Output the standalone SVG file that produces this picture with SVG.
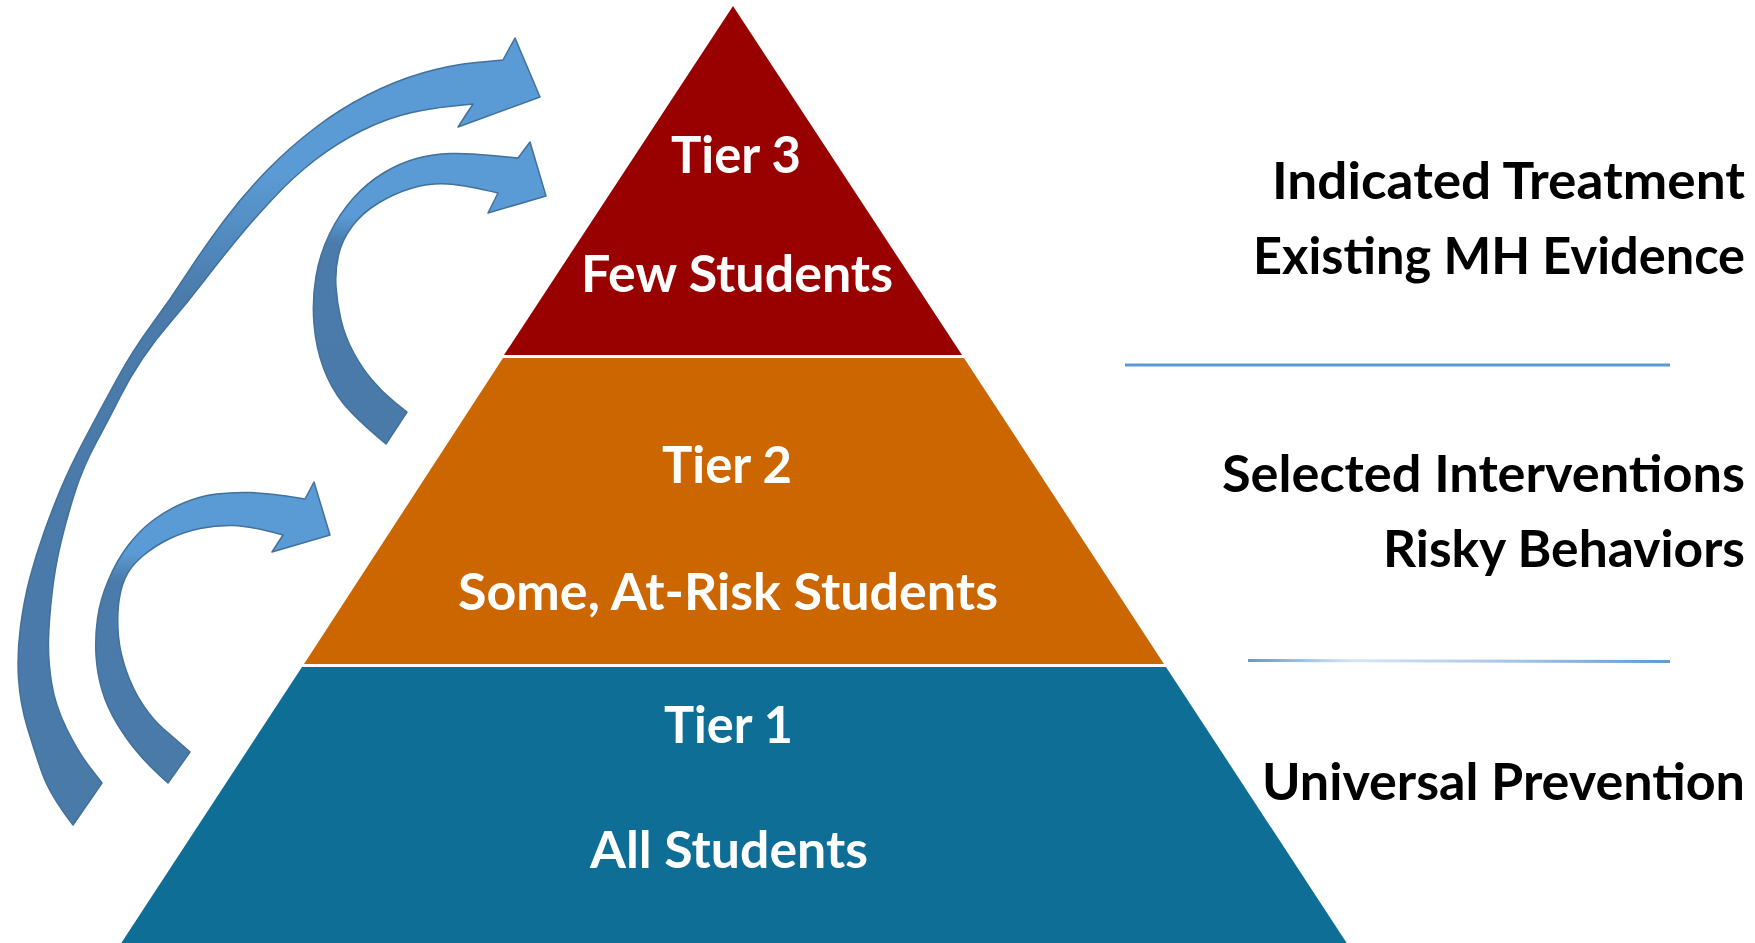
<svg xmlns="http://www.w3.org/2000/svg" width="1755" height="943" viewBox="0 0 1755 943">
<style>
.tier{font-family:Lato,"Open Sans","Liberation Sans",sans-serif;font-weight:bold;font-size:51px;fill:#ffffff}
.side{font-family:Lato,"Open Sans","Liberation Sans",sans-serif;font-weight:bold;font-size:51px;fill:#000000}
.arrow{stroke:#41719c;stroke-width:1.5;stroke-linejoin:round}
</style>
<defs>
<linearGradient id="gOuter" gradientUnits="userSpaceOnUse" x1="0" y1="38" x2="0" y2="825">
<stop offset="0" stop-color="#5b9bd5"/><stop offset="0.17" stop-color="#5b9bd5"/><stop offset="0.33" stop-color="#4a7bab"/><stop offset="1" stop-color="#4a7aa8"/>
</linearGradient>
<linearGradient id="gMid" gradientUnits="userSpaceOnUse" x1="0" y1="140" x2="0" y2="445">
<stop offset="0" stop-color="#5b9bd5"/><stop offset="0.25" stop-color="#5b9bd5"/><stop offset="0.34" stop-color="#4a7bab"/><stop offset="1" stop-color="#4a7aa8"/>
</linearGradient>
<linearGradient id="gLow" gradientUnits="userSpaceOnUse" x1="0" y1="480" x2="0" y2="785">
<stop offset="0" stop-color="#5b9bd5"/><stop offset="0.24" stop-color="#5b9bd5"/><stop offset="0.33" stop-color="#4a7bab"/><stop offset="1" stop-color="#4a7aa8"/>
</linearGradient>
<linearGradient id="gLine" x1="0" y1="0" x2="1" y2="0">
<stop offset="0" stop-color="#5b9bd5"/><stop offset="0.25" stop-color="#d6e6f5"/><stop offset="0.6" stop-color="#a9c8e8"/><stop offset="1" stop-color="#5b9bd5"/>
</linearGradient>
</defs>
<rect width="1755" height="943" fill="#ffffff"/>
<g id="tier3">
<polygon points="733,6 962,355 504,355" fill="#990000"/>
<text class="tier" x="671" y="173" textLength="130" lengthAdjust="spacingAndGlyphs">Tier 3</text>
<text class="tier" x="581" y="292" textLength="312" lengthAdjust="spacingAndGlyphs">Few Students</text>
</g>
<g id="tier2">
<polygon points="503,358 964,358 1164,664 304,664" fill="#cc6600"/>
<text class="tier" x="662" y="483" textLength="130" lengthAdjust="spacingAndGlyphs">Tier 2</text>
<text class="tier" x="458" y="610" textLength="540" lengthAdjust="spacingAndGlyphs">Some, At-Risk Students</text>
</g>
<g id="tier1">
<polygon points="302,667 1166,667 1350,948 118,948" fill="#0f6e96"/>
<text class="tier" x="664" y="743" textLength="129" lengthAdjust="spacingAndGlyphs">Tier 1</text>
<text class="tier" x="590" y="868" textLength="278" lengthAdjust="spacingAndGlyphs">All Students</text>
</g>
<g id="labels">
<text class="side" x="1272" y="199" textLength="473" lengthAdjust="spacingAndGlyphs">Indicated Treatment</text>
<text class="side" x="1253" y="274" textLength="492" lengthAdjust="spacingAndGlyphs">Existing MH Evidence</text>
<text class="side" x="1222" y="492" textLength="523" lengthAdjust="spacingAndGlyphs">Selected Interventions</text>
<text class="side" x="1383" y="567" textLength="362" lengthAdjust="spacingAndGlyphs">Risky Behaviors</text>
<text class="side" x="1262" y="800" textLength="483" lengthAdjust="spacingAndGlyphs">Universal Prevention</text>
</g>
<g id="dividers">
<line x1="1125" y1="365" x2="1670" y2="365" stroke="#5b9bd5" stroke-width="3"/>
<polygon points="1248,659 1670,660 1670,663 1248,662" fill="url(#gLine)"/>
</g>
<g id="connectors">
<path id="arrow-outer" class="arrow" fill="url(#gOuter)" d="M 515,38 L 540,97 L 458,127 L 473,104 Q 437,107 412,112.5 Q 387,118 362,130.5 Q 337,143 315,160 Q 293,177 273,198.5 Q 253,220 236.5,240 Q 220,260 203.5,281.5 Q 187,303 171,321.5 Q 155,340 142.5,358.5 Q 130,377 120,397 Q 110,417 96.5,442 Q 83,467 75,492 Q 67,517 61,542 Q 55,567 52,593.5 Q 49,620 48.5,640 Q 48,660 51.5,682.5 Q 55,705 66.5,728.5 Q 78,752 90,767.5 L 102,783 L 73,825 Q 50,795 42.5,774 Q 35,753 27.5,728 Q 20,703 18.5,678 Q 17,653 20.5,626.5 Q 24,600 30,577.5 Q 36,555 44,532.5 Q 52,510 61,488.5 Q 70,467 85,438.5 Q 100,410 116.5,380 Q 133,350 151.5,325 Q 170,300 187.5,273 Q 205,246 225,219.5 Q 245,193 267.5,170 Q 290,147 315,128 Q 340,109 367.5,95 Q 395,81 422.5,73 Q 450,65 476.5,62.5 L 503,60 Z"/>
<path id="arrow-mid" class="arrow" fill="url(#gMid)" d="M 530,142 L 546,196 L 488,213 L 498,193 Q 465,185 447.5,184 Q 430,183 412.5,188 Q 395,193 378.5,203 Q 362,213 352,226.5 Q 342,240 338.5,255 Q 335,270 336,286.5 Q 337,303 341,320 Q 345,337 353.5,352.5 Q 362,368 372,380 Q 382,392 394.5,402 L 407,412 L 386,444 Q 355,418 343,403 Q 331,388 323.5,368 Q 316,348 314,324 Q 312,300 316,276.5 Q 320,253 330,233 Q 340,213 353.5,198 Q 367,183 383.5,173 Q 400,163 416.5,158.5 Q 433,154 450,153.5 Q 467,153 492,155.5 L 518,158 Z"/>
<path id="arrow-low" class="arrow" fill="url(#gLow)" d="M 314,482 L 330,535 L 272,552 L 283,535 Q 250,526 233.5,525.5 Q 217,525 200,528.5 Q 183,532 168,539.5 Q 153,547 141.5,557 Q 130,567 125,578.5 Q 120,590 118.5,605 Q 117,620 118.5,636.5 Q 120,653 126.5,671.5 Q 133,690 143,705 Q 153,720 163,728.5 Q 173,737 181.5,744.5 L 190,752 L 168,783 Q 150,767 138.5,753.5 Q 127,740 117,723.5 Q 107,707 102,690 Q 97,673 96,655 Q 95,637 97.5,618.5 Q 100,600 108.5,580 Q 117,560 128.5,545 Q 140,530 153.5,520 Q 167,510 183.5,503 Q 200,496 216.5,494 Q 233,492 250,492.5 Q 267,493 286,496 L 305,499 Z"/>
</g>
</svg>
